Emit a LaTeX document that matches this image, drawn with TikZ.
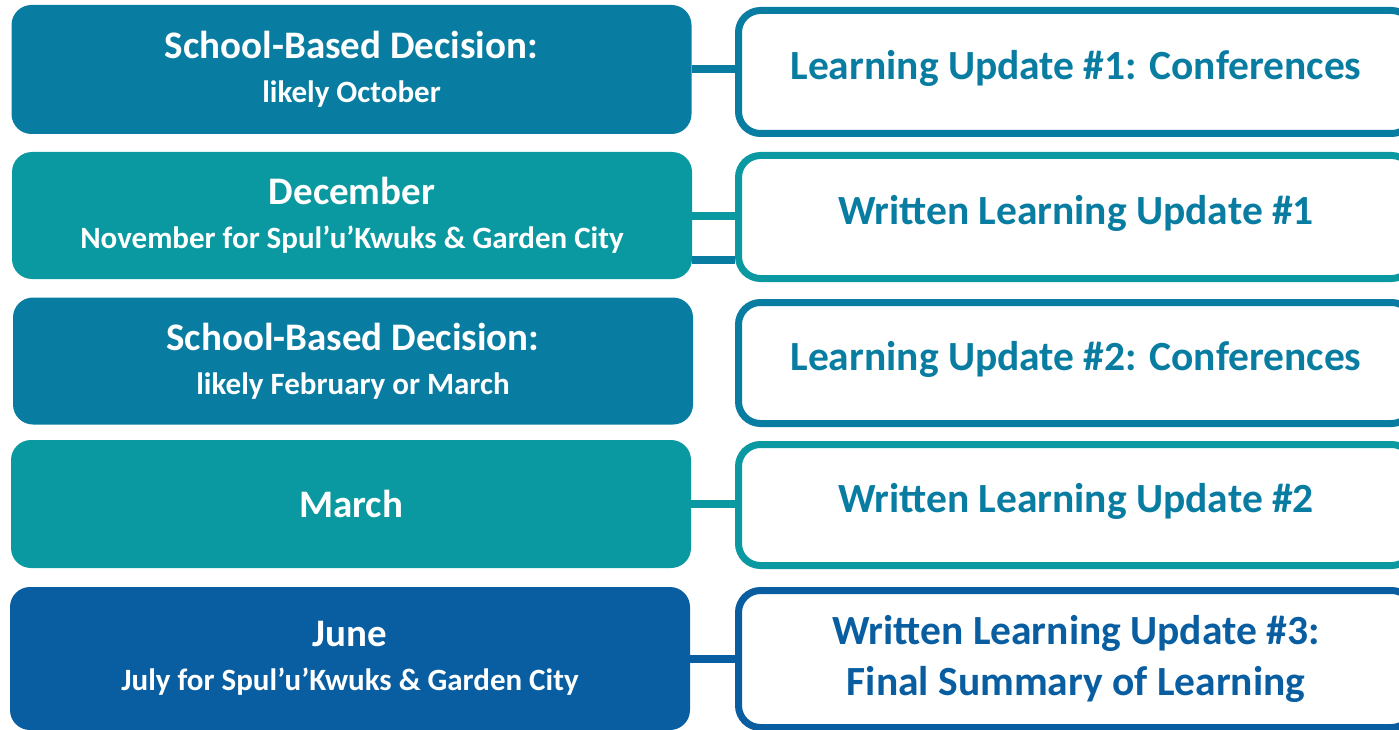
\documentclass[tikz,border=0pt]{standalone}
\usepackage{fontspec}
\setmainfont{Carlito}
\definecolor{ocean}{RGB}{8,125,161}
\definecolor{lagoon}{RGB}{10,153,160}
\definecolor{navy}{RGB}{8,94,160}
\newcommand{\bigline}{\fontsize{39}{44}\selectfont}
\newcommand{\smallline}{\fontsize{31}{44}\selectfont}

\begin{document}
\begin{tikzpicture}[x=1pt,y=-1pt,
  when/.style={rectangle,fill=#1,rounded corners=20pt,minimum width=680pt,inner sep=0pt,
    text=white,align=center,font=\bfseries\bigline},
  what/.style={rectangle,draw=#1,line width=7pt,rounded corners=22pt,fill=white,
    minimum width=675pt,inner sep=0pt,text=ocean,align=center,font=\bfseries\fontsize{41.5}{51}\selectfont},
  oneline/.style={text height=31pt,text depth=16pt},
  link/.style={draw=#1,line width=8pt}]
\useasboundingbox (0,0) rectangle (1399,730);
\clip (0,0) rectangle (1399,730);

% riga 1 - ottobre
\node[when=ocean,minimum height=129pt] (sbd1) at (351.5,69.5) {School-Based Decision:\\{\smallline likely October}};
\node[what=ocean,oneline,minimum height=123pt] (lu1) at (1076,72) {Learning Update \#1: Conferences};
\draw[link=ocean] (sbd1.east) -- (sbd1.east -| lu1.west);

% riga 2 - dicembre
\node[when=lagoon,minimum height=127pt] (dec) at (352,215.5) {December\\{\smallline November for Spul’u’Kwuks \& Garden City}};
\node[what=lagoon,oneline,minimum height=123pt] (wlu1) at (1076,217) {Written Learning Update \#1};
\draw[link=lagoon] (dec.east) -- (dec.east -| wlu1.west);
\draw[link=ocean] ([yshift=-44pt]dec.east) -- ([yshift=-44pt]dec.east -| wlu1.west);

% riga 3 - febbraio/marzo
\node[when=ocean,minimum height=127pt] (sbd2) at (353,361) {School-Based Decision:\\{\smallline likely February or March}};
\node[what=ocean,oneline,minimum height=121pt] (lu2) at (1076,363) {Learning Update \#2: Conferences};

% riga 4 - marzo
\node[when=lagoon,minimum height=128pt] (mar) at (351,504) {March};
\node[what=lagoon,oneline,minimum height=121pt] (wlu2) at (1076,505) {Written Learning Update \#2};
\draw[link=lagoon] (mar.east) -- (mar.east -| wlu2.west);

% riga 5 - giugno
\node[when=navy,minimum height=143pt] (jun) at (350,658.5) {June\\{\smallline July for Spul’u’Kwuks \& Garden City}};
\node[what=navy,text=navy,minimum height=137pt] (wlu3) at (1076,659) {Written Learning Update \#3:\\Final Summary of Learning};
\draw[link=navy] (jun.east) -- (jun.east -| wlu3.west);
\end{tikzpicture}
\end{document}
